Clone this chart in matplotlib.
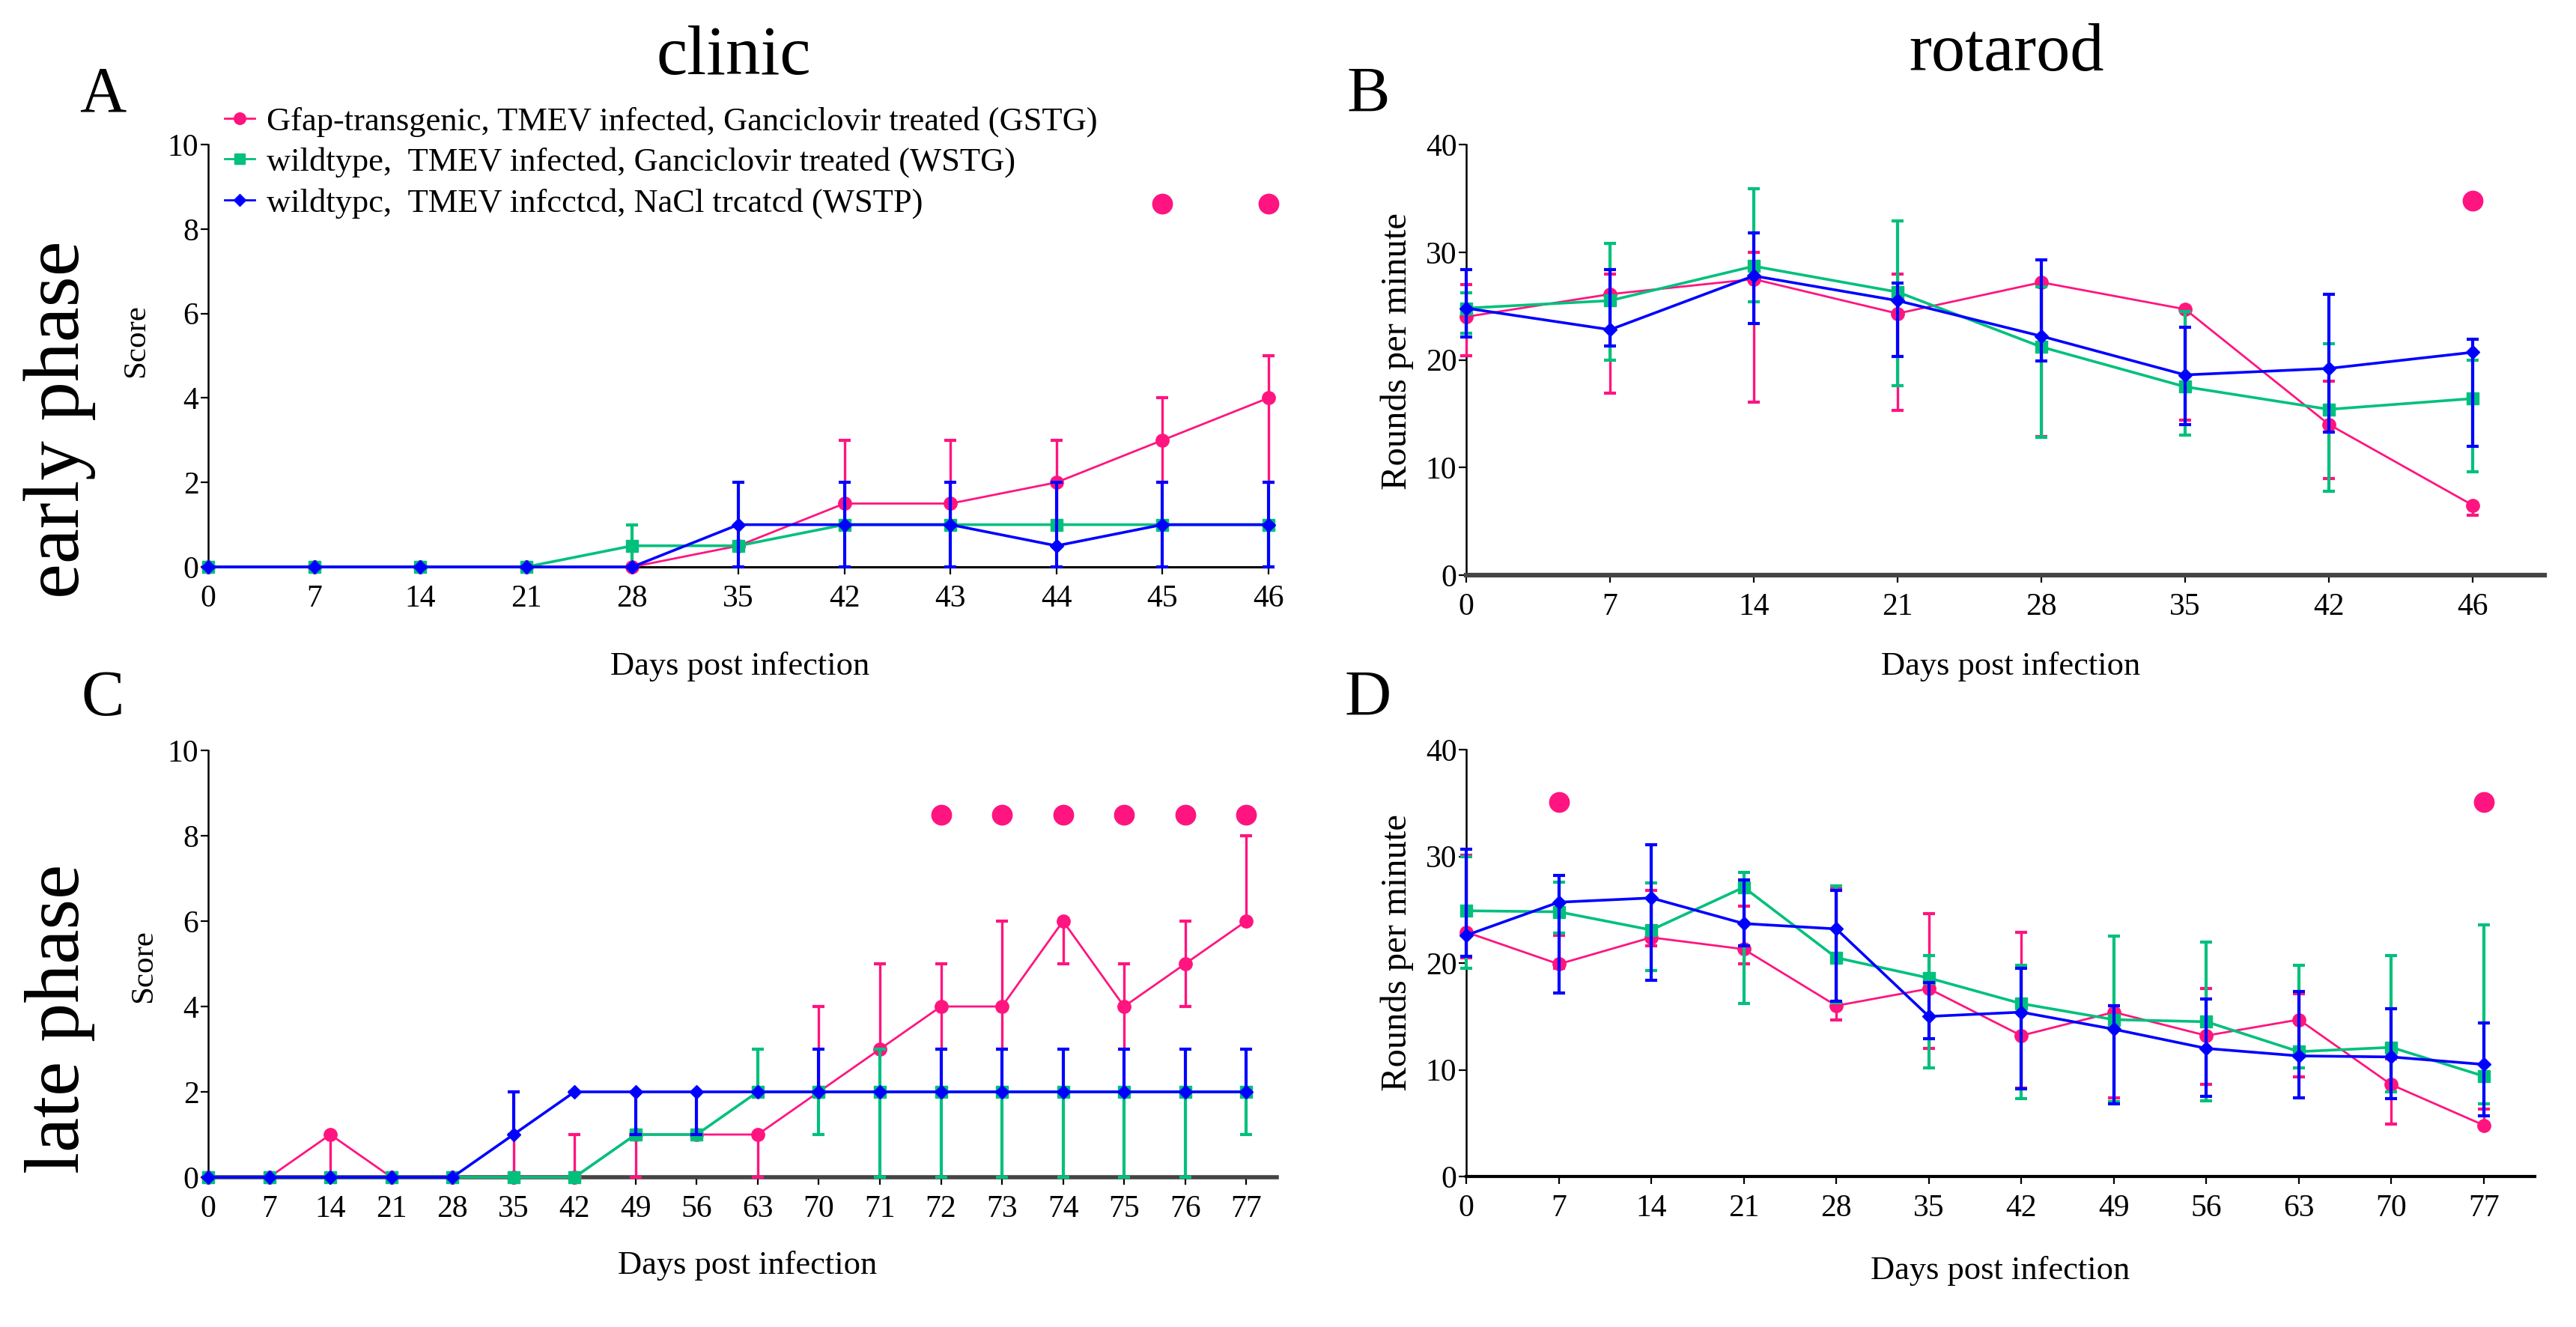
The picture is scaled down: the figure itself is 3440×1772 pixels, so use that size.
import matplotlib
matplotlib.use("Agg")
import matplotlib.pyplot as plt
import numpy as np
from matplotlib.lines import Line2D

plt.rcParams['font.family'] = ['Liberation Serif', 'DejaVu Serif']

# ---------------- data ----------------
labels_A = ["0", "7", "14", "21", "28", "35", "42", "43", "44", "45", "46"]
A_gstg = [0, 0, 0, 0, 0, 0.5, 1.5, 1.5, 2, 3, 4]
A_gstg_lo = [0, 0, 0, 0, 0, 0.5, 1, 1, 1, 2, 2]
A_gstg_hi = [0, 0, 0, 0, 0, 0.5, 3, 3, 3, 4, 5]
A_wstg = [0, 0, 0, 0, 0.5, 0.5, 1, 1, 1, 1, 1]
A_wstg_lo = [0, 0, 0, 0, 0, 0.5, 1, 1, 1, 1, 0]
A_wstg_hi = [0, 0, 0, 0, 1, 0.5, 1, 1, 1, 1, 1]
A_wstp = [0, 0, 0, 0, 0, 1, 1, 1, 0.5, 1, 1]
A_wstp_lo = [0, 0, 0, 0, 0, 0, 0, 0, 0, 0, 0]
A_wstp_hi = [0, 0, 0, 0, 0, 2, 2, 2, 2, 2, 2]
A_sig_days = ["45", "46"]
A_sig_y = [8.6, 8.6]

labels_B = ["0", "7", "14", "21", "28", "35", "42", "46"]
B_gstg = [24.0, 26.1, 27.5, 24.3, 27.2, 24.7, 14.0, 6.5]
B_gstg_lo = [20.4, 16.9, 16.1, 15.3, 12.9, 14.4, 9.0, 5.6]
B_gstg_hi = [27.0, 28.0, 30.0, 28.0, 27.2, 24.8, 18.0, 6.6]
B_wstg = [24.8, 25.5, 28.7, 26.3, 21.2, 17.5, 15.4, 16.4]
B_wstg_lo = [22.5, 20.0, 25.4, 17.6, 12.8, 13.0, 7.8, 9.6]
B_wstg_hi = [26.2, 30.8, 35.9, 32.9, 26.8, 24.5, 21.5, 20.0]
B_wstp = [24.8, 22.8, 27.8, 25.5, 22.2, 18.6, 19.2, 20.7]
B_wstp_lo = [22.1, 21.3, 23.4, 20.3, 19.9, 14.0, 13.3, 12.0]
B_wstp_hi = [28.4, 28.4, 31.8, 27.1, 29.3, 23.0, 26.1, 21.9]
B_sig_days = ["46"]
B_sig_y = [34.8]

labels_C = ["0", "7", "14", "21", "28", "35", "42", "49", "56", "63",
            "70", "71", "72", "73", "74", "75", "76", "77"]
C_gstg = [0, 0, 1, 0, 0, 0, 0, 1, 1, 1, 2, 3, 4, 4, 6, 4, 5, 6]
C_gstg_lo = [0, 0, 0, 0, 0, 0, 0, 0, 1, 0, 2, 3, 3, 3, 5, 3, 4, 6]
C_gstg_hi = [0, 0, 1, 0, 0, 1, 1, 1, 1, 1, 4, 5, 5, 6, 6, 5, 6, 8]
C_wstg = [0, 0, 0, 0, 0, 0, 0, 1, 1, 2, 2, 2, 2, 2, 2, 2, 2, 2]
C_wstg_lo = [0, 0, 0, 0, 0, 0, 0, 1, 1, 2, 1, 0, 0, 0, 0, 0, 0, 1]
C_wstg_hi = [0, 0, 0, 0, 0, 0, 0, 1, 1, 3, 2, 3, 2, 2, 2, 2, 2, 2]
C_wstp = [0, 0, 0, 0, 0, 1, 2, 2, 2, 2, 2, 2, 2, 2, 2, 2, 2, 2]
C_wstp_lo = [0, 0, 0, 0, 0, 1, 2, 1, 1, 2, 2, 2, 2, 2, 2, 2, 2, 2]
C_wstp_hi = [0, 0, 0, 0, 0, 2, 2, 2, 2, 2, 3, 2, 3, 3, 3, 3, 3, 3]
C_sig_days = ["72", "73", "74", "75", "76", "77"]
C_sig_y = [8.5, 8.5, 8.5, 8.5, 8.5, 8.5]

labels_D = ["0", "7", "14", "21", "28", "35", "42", "49", "56", "63", "70", "77"]
D_gstg = [22.9, 19.9, 22.4, 21.3, 16.0, 17.6, 13.2, 15.4, 13.2, 14.7, 8.6, 4.8]
D_gstg_lo = [20.5, 19.5, 21.6, 19.9, 14.7, 12.0, 8.3, 7.4, 8.6, 9.3, 4.9, 4.8]
D_gstg_hi = [30.1, 22.6, 26.8, 25.3, 27.0, 24.6, 22.9, 16.0, 17.6, 17.1, 11.0, 6.3]
D_wstg = [24.9, 24.8, 23.1, 27.1, 20.5, 18.6, 16.2, 14.7, 14.5, 11.7, 12.1, 9.4]
D_wstg_lo = [19.5, 22.8, 19.3, 16.2, 16.3, 10.2, 7.3, 7.0, 7.1, 10.2, 7.9, 6.8]
D_wstg_hi = [30.0, 27.6, 27.5, 28.5, 27.2, 20.7, 19.8, 22.5, 22.0, 19.8, 20.7, 23.6]
D_wstp = [22.6, 25.7, 26.1, 23.7, 23.2, 15.0, 15.4, 13.8, 12.0, 11.3, 11.2, 10.5]
D_wstp_lo = [20.6, 17.2, 18.4, 21.6, 16.4, 12.9, 8.2, 6.8, 7.5, 7.4, 7.3, 5.7]
D_wstp_hi = [30.7, 28.2, 31.1, 27.8, 26.8, 18.2, 19.5, 16.0, 16.6, 17.3, 15.7, 14.4]
D_sig_days = ["7", "77"]
D_sig_y = [35.1, 35.1]

group_names = ["Gfap-transgenic, TMEV infected, Ganciclovir treated (GSTG)",
               "wildtype,  TMEV infected, Ganciclovir treated (WSTG)",
               "wildtypc,  TMEV infcctcd, NaCl trcatcd (WSTP)"]

PINK = "#FF1480"
GREEN = "#00C07C"
BLUE = "#0000FF"

styles = [
    dict(color=PINK, marker="o", ms=12.5, lw=2.0, zorder=3),
    dict(color=GREEN, marker="s", ms=11.5, lw=2.6, zorder=4),
    dict(color=BLUE, marker="D", ms=9, lw=2.6, zorder=5),
]

W, H = 3441, 1772
fig = plt.figure(figsize=(W / 100, H / 100), dpi=100)


def px(x0, y0, x1, y1):
    # left, bottom, width, height from pixel box (top-left origin)
    return [x0 / W, 1 - y1 / H, (x1 - x0) / W, (y1 - y0) / H]


def draw_panel(ax, labels, series, ylim, yticks, xmax, sig_days, sig_y,
               bottom_color, bottom_lw):
    x = np.arange(len(labels))
    for (v, lo, hi), st in zip(series, styles):
        v = np.asarray(v, float)
        err = [v - np.asarray(lo, float), np.asarray(hi, float) - v]
        ax.errorbar(x, v, yerr=err, color=st["color"], marker=st["marker"],
                    ms=st["ms"], lw=st["lw"], elinewidth=st["lw"] + 0.4,
                    capsize=6, capthick=3.0, zorder=st["zorder"],
                    clip_on=False)
    sx = [labels.index(d) for d in sig_days]
    ax.plot(sx, sig_y, linestyle="none", marker="o", ms=19, color=PINK,
            zorder=6, clip_on=False)
    ax.set_xlim(0, xmax)
    ax.set_ylim(*ylim)
    ax.set_xticks(x)
    ax.set_xticklabels(labels)
    ax.set_yticks(yticks)
    ax.set_yticklabels([str(t) for t in yticks])
    for s in ["top", "right"]:
        ax.spines[s].set_visible(False)
    ax.spines["left"].set_linewidth(1.8)
    ax.spines["bottom"].set_linewidth(bottom_lw)
    ax.spines["bottom"].set_color(bottom_color)
    ax.tick_params(axis="both", labelsize=30, length=7, width=1.6,
                   direction="out")
    ax.tick_params(axis="x", pad=10)
    ax.tick_params(axis="y", pad=2)


axA = fig.add_axes(px(278, 193, 1694, 757))
draw_panel(axA, labels_A,
           [(A_gstg, A_gstg_lo, A_gstg_hi), (A_wstg, A_wstg_lo, A_wstg_hi),
            (A_wstp, A_wstp_lo, A_wstp_hi)],
           (0, 10), [0, 2, 4, 6, 8, 10], 10, A_sig_days, A_sig_y, "black", 2.2)

axB = fig.add_axes(px(1958, 193, 3398, 768))
draw_panel(axB, labels_B,
           [(B_gstg, B_gstg_lo, B_gstg_hi), (B_wstg, B_wstg_lo, B_wstg_hi),
            (B_wstp, B_wstp_lo, B_wstp_hi)],
           (0, 40), [0, 10, 20, 30, 40], 7.5, B_sig_days, B_sig_y, "#444444", 4.5)

axC = fig.add_axes(px(278, 1002, 1705, 1572))
draw_panel(axC, labels_C,
           [(C_gstg, C_gstg_lo, C_gstg_hi), (C_wstg, C_wstg_lo, C_wstg_hi),
            (C_wstp, C_wstp_lo, C_wstp_hi)],
           (0, 10), [0, 2, 4, 6, 8, 10], 17.5, C_sig_days, C_sig_y, "#444444", 4.0)

axD = fig.add_axes(px(1958, 1001, 3385, 1571))
draw_panel(axD, labels_D,
           [(D_gstg, D_gstg_lo, D_gstg_hi), (D_wstg, D_wstg_lo, D_wstg_hi),
            (D_wstp, D_wstp_lo, D_wstp_hi)],
           (0, 40), [0, 10, 20, 30, 40], 11.55, D_sig_days, D_sig_y, "black", 3.0)


def ftext(x, y, s, **kw):
    fig.text(x / W, 1 - y / H, s, ha="center", va="center", **kw)


ftext(980, 76, "clinic", fontsize=67)
ftext(2680, 72, "rotarod", fontsize=65)
ftext(137, 128, "A", fontsize=62)
ftext(1827, 128, "B", fontsize=62)
ftext(137, 934, "C", fontsize=62)
ftext(1827, 934, "D", fontsize=62)
ftext(80, 560, "early phase", fontsize=76, rotation=90)
ftext(80, 1360, "late phase", fontsize=75, rotation=90)
ftext(182, 455, "Score", fontsize=31, rotation=90)
ftext(192, 1290, "Score", fontsize=31, rotation=90)
ftext(1866, 469, "Rounds per minute", fontsize=35, rotation=90)
ftext(1866, 1272, "Rounds per minute", fontsize=35, rotation=90)
ftext(988, 890, "Days post infection", fontsize=32)
ftext(2685, 890, "Days post infection", fontsize=32)
ftext(998, 1690, "Days post infection", fontsize=32)
ftext(2671, 1697, "Days post infection", fontsize=32)

handles = [Line2D([], [], color=st["color"], marker=st["marker"],
                  ms=st["ms"] * 0.9, lw=2.0) for st in styles]
fig.legend(handles, group_names, loc="upper left",
           bbox_to_anchor=(300 / W, 1 - 142 / H), frameon=False,
           fontsize=32, handlelength=0.9, handletextpad=0.35,
           labelspacing=0.3, borderpad=0, borderaxespad=0)

fig.savefig("out.png", dpi=100)
